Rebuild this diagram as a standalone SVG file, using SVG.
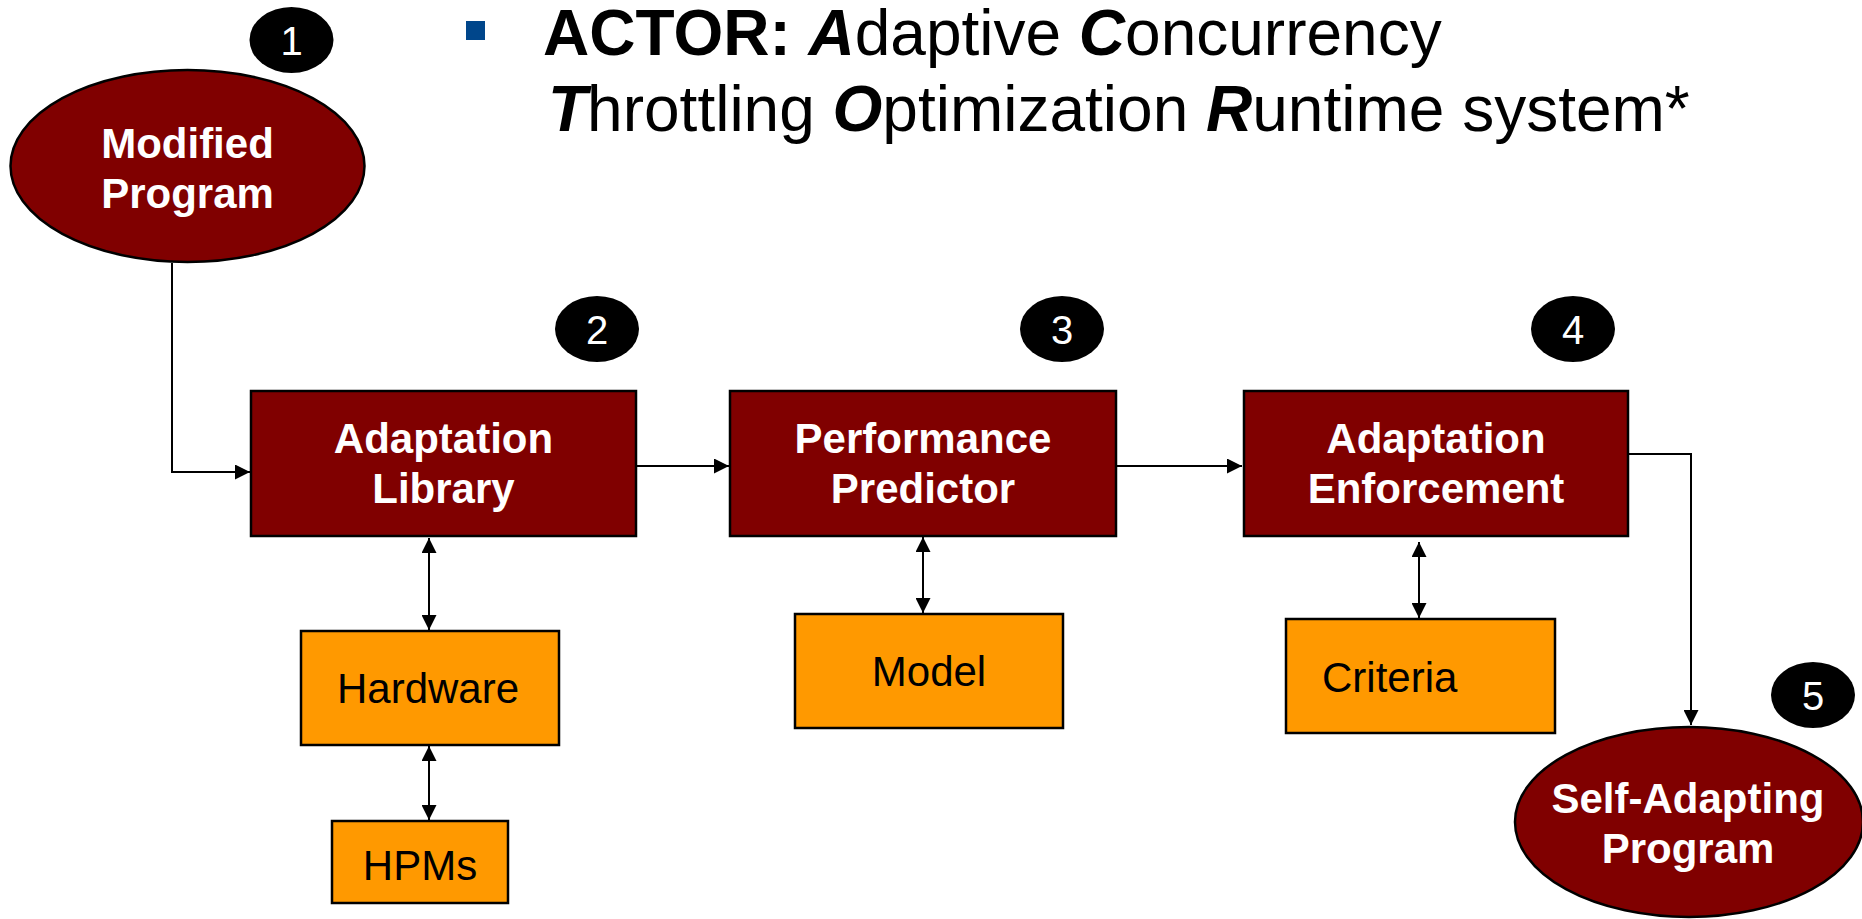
<svg xmlns="http://www.w3.org/2000/svg" width="1862" height="919" viewBox="0 0 1862 919">
  <style>
    .main { fill: #800000; stroke: #000; stroke-width: 2.5; }
    .aux { fill: #ff9900; stroke: #000; stroke-width: 2.5; }
    .badge { fill: #000; }
    .num { font-family: "Liberation Sans", Arial, sans-serif; font-size: 40px; fill: #fff; text-anchor: middle; }
    .lbl { font-family: "Liberation Sans", Arial, sans-serif; font-size: 42px; font-weight: bold; fill: #fff; text-anchor: middle; }
    .sub { font-family: "Liberation Sans", Arial, sans-serif; font-size: 42px; fill: #000; text-anchor: middle; }
    .title { font-family: "Liberation Sans", Arial, sans-serif; font-size: 64px; fill: #000; }
    .bi { font-weight: bold; font-style: italic; }
    .link { fill: none; stroke: #000; stroke-width: 2; }
  </style>
  <defs>
    <marker id="arrowEnd" viewBox="0 0 10 10" refX="10" refY="5" markerWidth="7" markerHeight="7" markerUnits="userSpaceOnUse" orient="auto">
      <path d="M0,0 L10,5 L0,10 z" fill="#000"/>
    </marker>
    <marker id="head" viewBox="0 0 10 10" refX="10" refY="5" markerUnits="userSpaceOnUse" markerWidth="15" markerHeight="15" orient="auto-start-reverse">
      <path d="M0,0 L10,5 L0,10 z" fill="#000"/>
    </marker>
  </defs>

  <!-- heading -->
  <g id="heading">
    <rect x="466" y="21" width="19" height="19" fill="#00468b"/>
    <text class="title" x="543" y="55"><tspan font-weight="bold">ACTOR: </tspan><tspan class="bi">A</tspan>daptive <tspan class="bi">C</tspan>oncurrency</text>
    <text class="title" x="548" y="131"><tspan class="bi">T</tspan>hrottling <tspan class="bi">O</tspan>ptimization <tspan class="bi">R</tspan>untime system*</text>
  </g>

  <!-- connectors -->
  <g id="connectors" class="link">
    <polyline class="link" points="172,263 172,472 250,472" marker-end="url(#head)"/>
    <line class="link" x1="636" y1="466" x2="729" y2="466" marker-end="url(#head)"/>
    <line class="link" x1="1116" y1="466" x2="1242" y2="466" marker-end="url(#head)"/>
    <polyline class="link" points="1628,454 1691,454 1691,725" marker-end="url(#head)"/>
    <line class="link" x1="429" y1="538" x2="429" y2="630" marker-start="url(#head)" marker-end="url(#head)"/>
    <line class="link" x1="429" y1="746" x2="429" y2="820" marker-start="url(#head)" marker-end="url(#head)"/>
    <line class="link" x1="923" y1="537" x2="923" y2="613" marker-start="url(#head)" marker-end="url(#head)"/>
    <line class="link" x1="1419" y1="542" x2="1419" y2="618" marker-start="url(#head)" marker-end="url(#head)"/>
  </g>

  <!-- step 1 -->
  <g id="modified-program">
    <ellipse class="main" cx="187.5" cy="166" rx="177" ry="96"/>
    <text class="lbl" x="187.5" y="158">Modified</text>
    <text class="lbl" x="187.5" y="208">Program</text>
  </g>
  <g id="badge-1">
    <ellipse class="badge" cx="291.5" cy="40" rx="42" ry="33"/>
    <text class="num" x="291.5" y="55">1</text>
  </g>

  <!-- step 2 -->
  <g id="adaptation-library">
    <rect class="main" x="251" y="391" width="385" height="145"/>
    <text class="lbl" x="443.5" y="453">Adaptation</text>
    <text class="lbl" x="443.5" y="503">Library</text>
  </g>
  <g id="badge-2">
    <ellipse class="badge" cx="597" cy="329" rx="42" ry="33"/>
    <text class="num" x="597" y="344">2</text>
  </g>
  <g id="hardware">
    <rect class="aux" x="301" y="631" width="258" height="114"/>
    <text class="sub" x="428" y="703">Hardware</text>
  </g>
  <g id="hpms">
    <rect class="aux" x="332" y="821" width="176" height="82"/>
    <text class="sub" x="420" y="880">HPMs</text>
  </g>

  <!-- step 3 -->
  <g id="performance-predictor">
    <rect class="main" x="730" y="391" width="386" height="145"/>
    <text class="lbl" x="923" y="453">Performance</text>
    <text class="lbl" x="923" y="503">Predictor</text>
  </g>
  <g id="badge-3">
    <ellipse class="badge" cx="1062" cy="329" rx="42" ry="33"/>
    <text class="num" x="1062" y="344">3</text>
  </g>
  <g id="model">
    <rect class="aux" x="795" y="614" width="268" height="114"/>
    <text class="sub" x="929" y="686">Model</text>
  </g>

  <!-- step 4 -->
  <g id="adaptation-enforcement">
    <rect class="main" x="1244" y="391" width="384" height="145"/>
    <text class="lbl" x="1436" y="453">Adaptation</text>
    <text class="lbl" x="1436" y="503">Enforcement</text>
  </g>
  <g id="badge-4">
    <ellipse class="badge" cx="1573" cy="329" rx="42" ry="33"/>
    <text class="num" x="1573" y="344">4</text>
  </g>
  <g id="criteria">
    <rect class="aux" x="1286" y="619" width="269" height="114"/>
    <text class="sub" x="1322" y="692" text-anchor="start" style="text-anchor:start">Criteria</text>
  </g>

  <!-- step 5 -->
  <g id="self-adapting-program">
    <ellipse class="main" cx="1689" cy="822" rx="174" ry="95"/>
    <text class="lbl" x="1688" y="813">Self-Adapting</text>
    <text class="lbl" x="1688" y="863">Program</text>
  </g>
  <g id="badge-5">
    <ellipse class="badge" cx="1813" cy="695" rx="42" ry="33"/>
    <text class="num" x="1813" y="710">5</text>
  </g>
</svg>
